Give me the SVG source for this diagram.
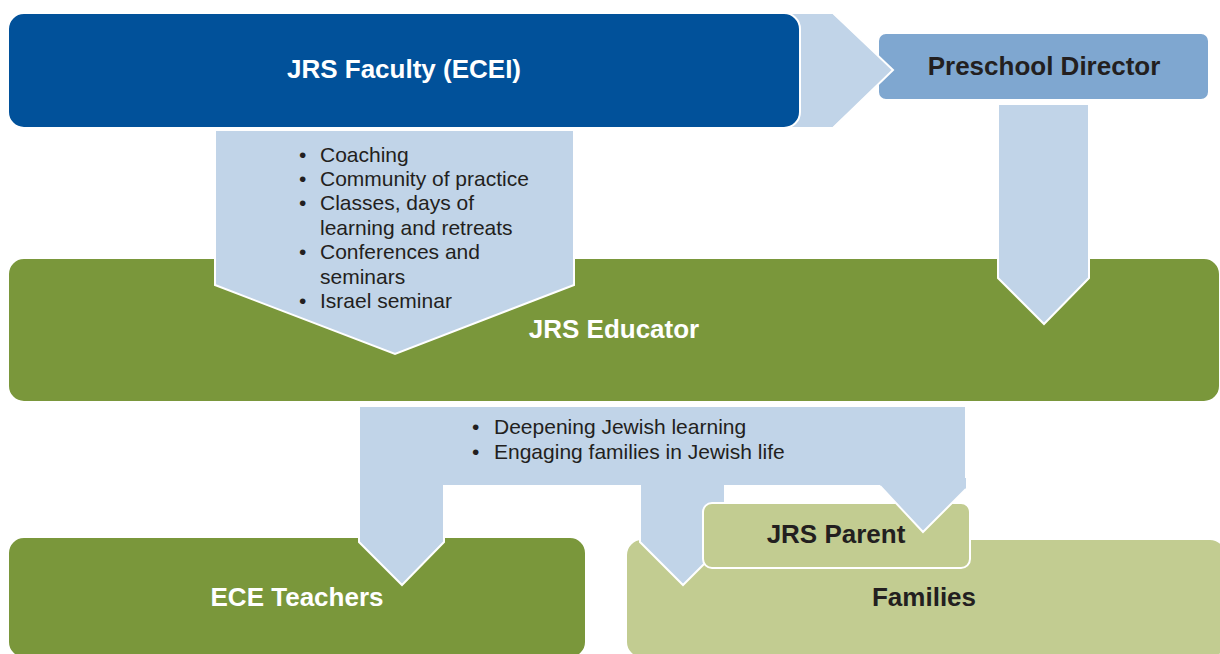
<svg xmlns="http://www.w3.org/2000/svg" width="1220" height="654" viewBox="0 0 1220 654">
<style>
.box{stroke:#fff;stroke-width:2}
.dblue{fill:#01519A}
.mblue{fill:#7FA7D0}
.green{fill:#7A973B}
.lgreen{fill:#C2CC91}
.arrow{fill:#C1D4E8;stroke:#fff;stroke-width:2;stroke-linejoin:miter}
.t{font-family:"Liberation Sans",Arial,sans-serif;font-weight:bold;font-size:26px;text-anchor:middle}
.w{fill:#fff}
.d{fill:#231F20}
.b{font-family:"Liberation Sans",Arial,sans-serif;font-size:21px;fill:#231F20}
</style>
<rect width="1220" height="654" fill="#fff"/>
<g id="connectors">
<polygon id="arrow-faculty-director" class="arrow" points="770,13 833,13 893,70 833,128 770,128"/>
</g>
<g id="preschool-director">
<rect class="box mblue" x="878" y="33" width="331" height="67" rx="8"/>
<text class="t d" x="1044" y="75">Preschool Director</text>
</g>
<g id="connectors-2">
<polygon class="arrow" points="820,14 833,14 893,70 833,127 820,127" style="stroke:none"/>
<polyline points="833,13 893,70 833,128" fill="none" stroke="#fff" stroke-width="2"/>
</g>
<g id="jrs-faculty">
<rect class="box dblue" x="8" y="13" width="792" height="115" rx="16"/>
<text class="t w" x="404" y="78">JRS Faculty (ECEI)</text>
</g>
<g id="jrs-educator">
<rect class="box green" x="8" y="258" width="1212" height="144" rx="16"/>
<text class="t w" x="614" y="338">JRS Educator</text>
</g>
<g id="ece-teachers">
<rect class="box green" x="8" y="537" width="578" height="121" rx="16"/>
<text class="t w" x="297" y="606">ECE Teachers</text>
</g>
<g id="families">
<rect class="box lgreen" x="626" y="539" width="600" height="119" rx="16"/>
<text class="t d" x="924" y="606">Families</text>
</g>
<g id="connectors-3">
<polygon id="arrow-faculty-educator" class="arrow" points="215,130 574,130 574,285 395,354 215,285"/>
<polygon id="arrow-director-educator" class="arrow" points="998,104 1089,104 1089,278 1044,324 998,278"/>
<path id="arrow-educator-down" class="arrow" d="M359,406 H966 V489 L923,532 L880,486 H725 V543 L683,585 L640,542 V486 H444 V542 L402,585 L359,542 Z"/>
</g>
<g id="connector-text">
<text class="b"><tspan x="299" y="161.5">•</tspan><tspan x="320" y="161.5">Coaching</tspan></text>
<text class="b"><tspan x="299" y="186">•</tspan><tspan x="320" y="186">Community of practice</tspan></text>
<text class="b"><tspan x="299" y="210.3">•</tspan><tspan x="320" y="210.3">Classes, days of</tspan><tspan x="320" y="234.7">learning and retreats</tspan></text>
<text class="b"><tspan x="299" y="259.1">•</tspan><tspan x="320" y="259.1">Conferences and</tspan><tspan x="320" y="283.5">seminars</tspan></text>
<text class="b"><tspan x="299" y="307.9">•</tspan><tspan x="320" y="307.9">Israel seminar</tspan></text>
<text class="b"><tspan x="472" y="434">•</tspan><tspan x="494" y="434">Deepening Jewish learning</tspan></text>
<text class="b"><tspan x="472" y="458.5">•</tspan><tspan x="494" y="458.5">Engaging families in Jewish life</tspan></text>
</g>
<g id="jrs-parent">
<rect class="box lgreen" x="703" y="503" width="267" height="65" rx="9"/>
<text class="t d" x="836" y="543">JRS Parent</text>
</g>
<g id="connectors-4">
<polygon points="880,478 966,478 966,489 923,532 880,486" fill="#C1D4E8"/>
<polyline points="880,486 923,532 966,489" fill="none" stroke="#fff" stroke-width="2"/>
</g>
</svg>
